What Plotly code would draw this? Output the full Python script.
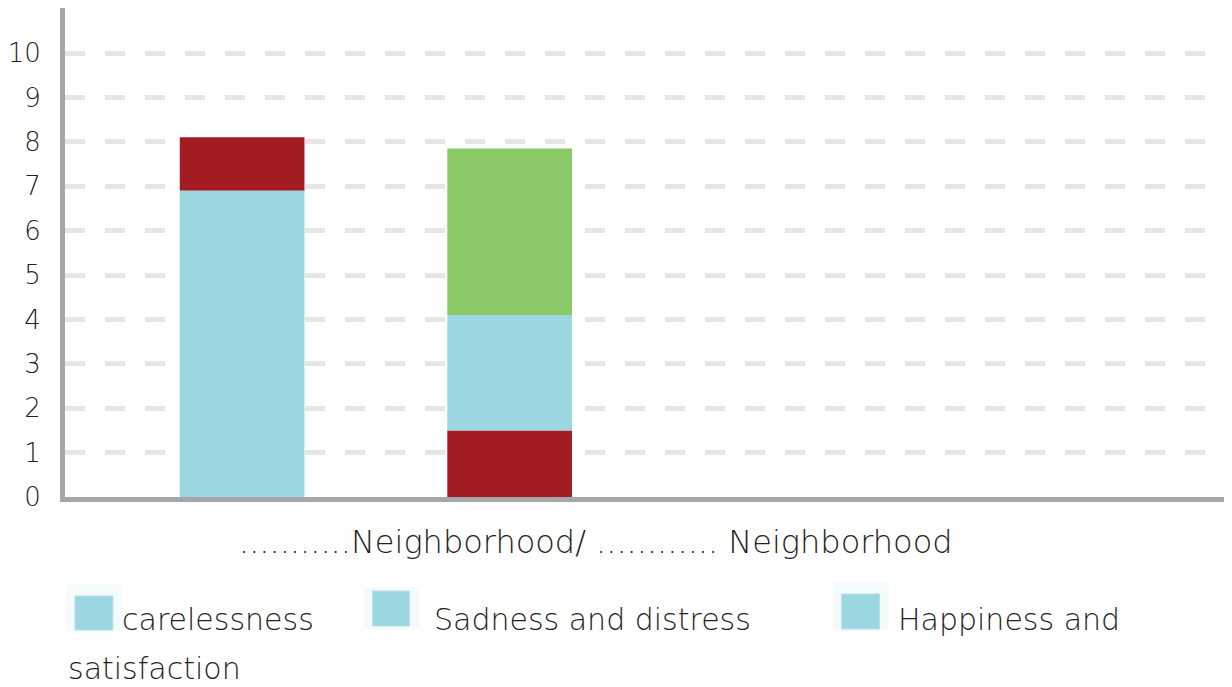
import plotly.graph_objects as go

# ---- data ----
categories = ["Neighborhood 1", "Neighborhood 2"]
carelessness = [1.2, 1.5]
sadness = [6.9, 2.6]
happiness = [0.0, 3.75]
series_names = ["carelessness", "Sadness and distress", "Happiness and satisfaction"]
# stacking order (bottom -> top) differs per category
stack_order = [["sadness", "carelessness", "happiness"],
               ["carelessness", "sadness", "happiness"]]
y_ticks = list(range(0, 11))
x_title = "...........Neighborhood/ ............ Neighborhood"

values = {"carelessness": carelessness, "sadness": sadness, "happiness": happiness}
colors = {"carelessness": "#a21c21", "sadness": "#9cd6e0", "happiness": "#8ac868"}
names = {"carelessness": series_names[0], "sadness": series_names[1], "happiness": series_names[2]}

# compute bases
bases = {k: [0.0] * len(categories) for k in values}
for ci, order in enumerate(stack_order):
    acc = 0.0
    for k in order:
        bases[k][ci] = acc
        acc += values[k][ci]

FONT = "'DejaVu Sans', sans-serif"
WEIGHT = 200
TXT = "#231f20"
OFF = 8  # page body margin
W, H = 1232 - OFF, 687 - OFF
# target geometry in screen pixels
SL, ST, SB = 63, 6, 497
L, T = SL - OFF, ST - OFF
T = max(T, 0)
PW = W - L
PH = (SB - OFF) - T
B = H - (SB - OFF)


def px_x(x):
    return (x - OFF - L) / PW


def px_y(y):
    return ((SB - OFF) - (y - OFF)) / PH


fig = go.Figure()
xs = list(range(len(categories)))
for k in ["carelessness", "sadness", "happiness"]:
    fig.add_trace(go.Bar(
        x=xs, y=values[k], base=bases[k], name=names[k],
        marker=dict(color=colors[k], line=dict(width=0)),
        width=0.466, showlegend=False,
    ))

fig.update_layout(
    width=W, height=H,
    margin=dict(l=L, r=0, t=T, b=B, pad=0),
    paper_bgcolor="white", plot_bgcolor="white",
    barmode="overlay",
    font=dict(family=FONT, color=TXT, size=28, weight=WEIGHT),
    xaxis=dict(range=[-0.662, 3.70], showticklabels=False, showgrid=False,
               zeroline=False, showline=True, linecolor="#a6a6aa", linewidth=5,
               ticks=""),
    yaxis=dict(range=[0, (SB - ST) / 44.4 - (ST - OFF - T) / 44.4 if False else (SB - OFF - T) / 44.4],
               tickvals=y_ticks, ticktext=[str(v) for v in y_ticks],
               showgrid=True, gridcolor="#e6e6e6", gridwidth=4.5, griddash="20px,20px",
               zeroline=False, showline=True, linecolor="#a6a6aa", linewidth=5,
               ticks="", ticklabelstandoff=14,
               tickfont=dict(family=FONT, size=26, color=TXT, weight=WEIGHT)),
)

shapes = []
annotations = []

# x-axis title
annotations.append(dict(text=x_title, xref="paper", yref="paper",
                        x=px_x(594.5), y=px_y(542), xanchor="center", yanchor="middle",
                        showarrow=False, font=dict(family=FONT, size=32, color=TXT, weight=WEIGHT)))

# manual legend
legend_items = [
    # (pale bg x0,x1,y0,y1), (swatch x0,x1,y0,y1), text x, label
    ((65, 119, 584, 631), (73, 111, 596, 630), 118, series_names[0]),
    ((362, 418, 587, 630), (371, 408, 591, 626), 431, series_names[1]),
    ((833, 888, 582, 631), (841, 879, 594, 629), 895, "Happiness and"),
]
for bg, sw, tx, label in legend_items:
    shapes.append(dict(type="rect", xref="paper", yref="paper",
                       x0=px_x(bg[0]), x1=px_x(bg[1]), y0=px_y(bg[3]), y1=px_y(bg[2]),
                       fillcolor="#f5fbfc", line=dict(width=0), layer="above"))
    shapes.append(dict(type="rect", xref="paper", yref="paper",
                       x0=px_x(sw[0]), x1=px_x(sw[1]), y0=px_y(sw[3]), y1=px_y(sw[2]),
                       fillcolor=colors["sadness"], line=dict(width=1, color="#b3e2ea"),
                       layer="above"))
    annotations.append(dict(text=label, xref="paper", yref="paper",
                            x=px_x(tx), y=px_y(619), xanchor="left", yanchor="middle",
                            showarrow=False, font=dict(family=FONT, size=30, color=TXT, weight=WEIGHT)))
annotations.append(dict(text="satisfaction", xref="paper", yref="paper",
                        x=px_x(64), y=px_y(668), xanchor="left", yanchor="middle",
                        showarrow=False, font=dict(family=FONT, size=30, color=TXT, weight=WEIGHT)))

fig.update_layout(shapes=shapes, annotations=annotations)
fig.write_html("out.html")
